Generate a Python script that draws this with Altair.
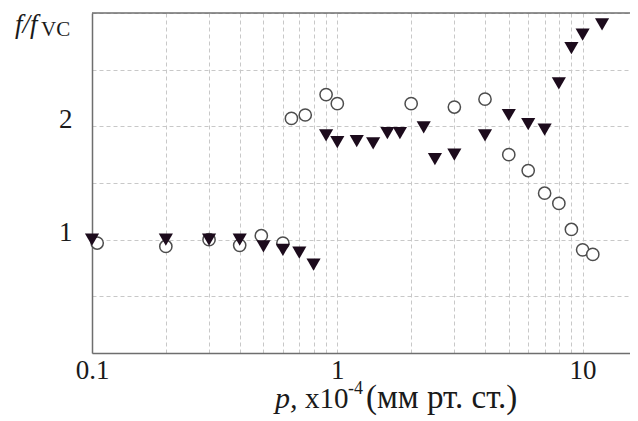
import altair as alt
import pandas as pd

# Filled down-triangles
tri_p = [0.1, 0.2, 0.3, 0.4, 0.5, 0.6, 0.7, 0.8, 0.9, 1.0, 1.2, 1.4, 1.6, 1.8,
         2.25, 2.5, 3.0, 4.0, 5.0, 6.0, 7.0, 8.0, 9.0, 10.0, 12.0]
tri_f = [1.0, 1.0, 1.0, 1.0, 0.94, 0.91, 0.885, 0.78, 1.92, 1.86, 1.87, 1.85, 1.94, 1.94,
         1.99, 1.71, 1.75, 1.92, 2.10, 2.02, 1.97, 2.38, 2.69, 2.81, 2.90]

# Open circles
cir_p = [0.105, 0.2, 0.3, 0.4, 0.49, 0.6, 0.65, 0.74, 0.9, 1.0, 2.0, 3.0, 4.0,
         5.0, 6.0, 7.0, 8.0, 9.0, 10.0, 11.0]
cir_f = [0.97, 0.94, 1.0, 0.95, 1.035, 0.97, 2.07, 2.10, 2.28, 2.20, 2.20, 2.17, 2.24,
         1.75, 1.61, 1.41, 1.32, 1.09, 0.91, 0.87]

x_grid = [0.1, 0.2, 0.3, 0.4, 0.5, 0.6, 0.7, 0.8, 0.9, 1, 2, 3, 4, 5, 6, 7, 8, 9, 10]
x_labels = [0.1, 1, 10]
y_grid = [0.5, 1, 1.5, 2, 2.5, 3]
y_labels = [1, 2]

FONT = "Liberation Serif"
AX = "#6e6e6e"
GRID = "#c8c8c8"

xscale = alt.Scale(type="log", domain=[0.1, 15.6])
yscale = alt.Scale(domain=[0, 3])

xaxis = alt.Axis(
    values=x_grid,
    labelExpr="indexof(" + str(x_labels) + ", datum.value) >= 0 ? format(datum.value, '~g') : ''",
    grid=True, gridColor=GRID, gridDash=[4, 3], gridWidth=1,
    ticks=False, domainColor=AX, domainWidth=1.5,
    labelFont=FONT, labelFontSize=27, labelColor="#1a1a1a",
    labelPadding=25, labelBaseline="alphabetic", labelOverlap=False, labelFlush=False,
    title=None,
)
yaxis = alt.Axis(
    values=y_grid,
    labelExpr="indexof(" + str(y_labels) + ", datum.value) >= 0 ? format(datum.value, '~g') : ''",
    grid=True, gridColor=GRID, gridDash=[4, 3], gridWidth=1,
    ticks=False, domainColor=AX, domainWidth=1.5,
    labelFont=FONT, labelFontSize=27, labelColor="#1a1a1a",
    labelPadding=20, labelBaseline="alphabetic", labelOffset=1, labelOverlap=False,
    labelFlush=False, title=None,
)

df_tri = pd.DataFrame({"p": tri_p, "f": tri_f})
df_cir = pd.DataFrame({"p": cir_p, "f": cir_f})

circles = alt.Chart(df_cir).mark_point(
    shape="circle", size=150, filled=True, fill="white", stroke="#4d4d4d", strokeWidth=1.5, opacity=1
).encode(
    x=alt.X("p:Q", scale=xscale, axis=xaxis),
    y=alt.Y("f:Q", scale=yscale, axis=yaxis),
)

triangles = alt.Chart(df_tri).mark_point(
    shape="triangle-down", size=200, filled=True, color="#1c0b1c", opacity=1
).encode(
    x=alt.X("p:Q", scale=xscale, axis=xaxis),
    y=alt.Y("f:Q", scale=yscale, axis=yaxis),
)

top_line = alt.Chart(pd.DataFrame({"f": [3]})).mark_rule(color=AX, strokeWidth=1.5).encode(
    y=alt.Y("f:Q", scale=yscale, axis=yaxis)
)

def label(text, x, y, size, style="normal"):
    return alt.Chart(pd.DataFrame({"t": [text]})).mark_text(
        align="left", baseline="alphabetic", font=FONT, fontSize=size,
        fontStyle=style, color="#1a1a1a"
    ).encode(x=alt.value(x), y=alt.value(y), text="t:N")

texts = [
    label("f/f", -77, 20, 27, "italic"),
    label("VC", -51, 23, 21),
    label("p,", 183, 395, 30, "italic"),
    label("x10", 213, 395, 29),
    label("-4", 256, 381, 18),
    label("(мм рт. ст.)", 274, 395, 33),
]

chart = alt.layer(circles, triangles, top_line, *texts).properties(
    width=538, height=340,
    autosize=alt.AutoSizeParams(type="none"),
    padding={"left": 84, "top": 5, "right": 0, "bottom": 66},
).configure_view(stroke=None)

chart.save("out.html", embed_options={"renderer": "svg", "actions": False})
